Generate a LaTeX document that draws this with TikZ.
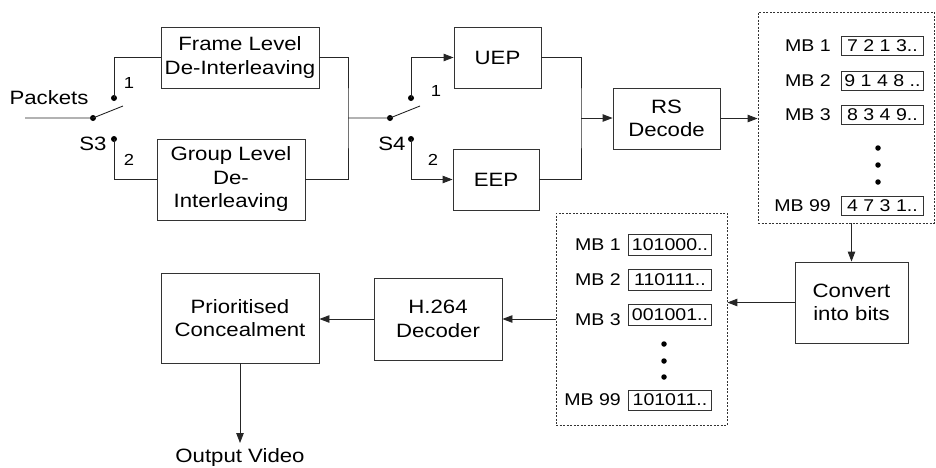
\documentclass[tikz,border=0pt]{standalone}
\usepackage{fontspec}
\setmainfont{Liberation Sans}[FakeStretch=1.15]
\usetikzlibrary{arrows.meta}
\begin{document}
\begin{tikzpicture}[x=1pt,y=-1pt,
  blk/.style={draw=black!80, line width=0.9pt, align=center, inner sep=0pt,
              font=\fontsize{19.3}{23.5}\selectfont},
  wire/.style={draw=black!85, line width=0.9pt},
  arr/.style={wire, -{Triangle[length=10pt,width=7.5pt]}},
  pin/.style={circle, fill=black, inner sep=0pt, minimum size=6pt},
  lbl/.style={font=\fontsize{19.3}{22}\selectfont, inner sep=0pt},
  num/.style={font=\fontsize{16}{18}\selectfont, inner sep=0pt},
  mb/.style={font=\fontsize{17}{18}\selectfont, inner sep=0pt, anchor=east},
  val/.style={draw=black!80, line width=0.9pt, font=\fontsize{17}{18}\selectfont,
              inner sep=0pt, minimum height=19pt, anchor=west},
  holder/.style={draw=black!80, line width=0.8pt, dash pattern=on 2pt off 1.5pt,
                 inner sep=0pt},
  dot/.style={circle, fill=black, inner sep=0pt, minimum size=5.5pt}]
\useasboundingbox (0,0) rectangle (936,467);

% ---- de-interleaving stage with switch S3 ----
\node[blk, minimum width=158pt, minimum height=61pt] (frame) at (240,57.5)
  {Frame Level\\De-Interleaving};
\node[blk, minimum width=148pt, minimum height=81pt] (group) at (231,179.5)
  {Group Level\\De-\\Interleaving};

\node[lbl] (packets) at (49,98) {Packets};
\coordinate (in) at (25,118);
\node[pin] (p3) at (93,118) {};
\node[pin] (c31) at (114,98) {};
\node[pin] (c32) at (114,139) {};
\coordinate (b3) at (123,106);
\node[num] (n31) at (129,83) {1};
\node[num] (n32) at (129,160) {2};
\node[lbl] (s3) at (93,144) {S3};

\draw[wire] (in) -- (p3.center) -- (b3);
\draw[wire] (c31.center) |- (frame.west);
\draw[wire] (c32.center) |- (group.west);

\coordinate (j1) at (348,118);
\draw[wire] (frame.east) -| (j1) |- (group.east);

% ---- protection stage with switch S4 ----
\node[blk, minimum width=87pt, minimum height=61pt] (uep) at (497.5,57.5) {UEP};
\node[blk, minimum width=86pt, minimum height=61pt] (eep) at (496,179.5) {EEP};

\node[pin] (p4) at (390,118) {};
\node[pin] (c41) at (411,98) {};
\node[pin] (c42) at (411,139) {};
\coordinate (b4) at (420,106);
\node[num] (n41) at (436,91) {1};
\node[num] (n42) at (433,160) {2};
\node[lbl] (s4) at (392,144) {S4};

\draw[wire] (j1) -- (p4.center) -- (b4);
\draw[arr] (c41.center) |- (uep.west);
\draw[arr] (c42.center) |- (eep.west);

\coordinate (j2) at (581,118);
\draw[wire] (uep.east) -| (j2) |- (eep.east);

\node[blk, minimum width=107pt, minimum height=61pt] (rs) at (666.5,118.5) {RS\\Decode};
\draw[arr] (j2) -- (rs.west |- j2);

% ---- macroblock symbol list ----
\node[holder, minimum width=176pt, minimum height=211pt] (list1) at (846,117.5) {};
\draw[arr] (rs.east) -- (list1.west |- rs.east);

\node[mb] (m1) at (831,46) {MB 1};
\node[val, minimum width=82pt] (v1) at (841,46) {7 2 1 3..};
\node[mb] (m2) at (831,81) {MB 2};
\node[val, minimum width=82pt] (v2) at (841,81) {9 1 4 8 ..};
\node[mb] (m3) at (831,115) {MB 3};
\node[val, minimum width=82pt] (v3) at (841,115) {8 3 4 9..};
\node[dot] (d1) at (878,148) {};
\node[dot] (d2) at (878,165) {};
\node[dot] (d3) at (878,182) {};
\node[mb] (m99) at (831,206) {MB 99};
\node[val, minimum width=82pt] (v99) at (841,206) {4 7 3 1..};

% ---- bit conversion ----
\node[blk, minimum width=113pt, minimum height=81pt] (conv) at (851.5,302.5)
  {Convert\\into bits};
\draw[arr] (conv.north |- list1.south) -- (conv.north);

% ---- macroblock bit list ----
\node[holder, minimum width=171pt, minimum height=212pt] (list2) at (641.5,319) {};
\draw[arr] (conv.west) -- (list2.east |- conv.west);

\node[mb] (k1) at (621,245) {MB 1};
\node[val, minimum width=83pt, minimum height=21pt] (w1) at (628,245) {101000..};
\node[mb] (k2) at (621,280) {MB 2};
\node[val, minimum width=83pt, minimum height=21pt] (w2) at (628,280) {110111..};
\node[mb] (k3) at (621,320) {MB 3};
\node[val, minimum width=83pt, minimum height=21pt] (w3) at (628,315) {001001..};
\node[dot] (e1) at (664,344) {};
\node[dot] (e2) at (664,361) {};
\node[dot] (e3) at (664,377) {};
\node[mb] (k99) at (621,400) {MB 99};
\node[val, minimum width=83pt, minimum height=20pt] (w99) at (628,400) {101011..};

% ---- decoding and concealment ----
\node[blk, minimum width=128pt, minimum height=82pt] (h264) at (438,319) {H.264\\Decoder};
\node[blk, minimum width=158pt, minimum height=90pt] (prior) at (240,318)
  {Prioritised\\Concealment};
\draw[arr] (list2.west |- h264.east) -- (h264.east);
\draw[arr] (h264.west) -- (prior.east |- h264.west);

\node[lbl, anchor=base] (out) at (240,462) {Output Video};
\coordinate (outtip) at (240,443);
\draw[arr] (prior.south) -- (outtip);
\end{tikzpicture}
\end{document}
